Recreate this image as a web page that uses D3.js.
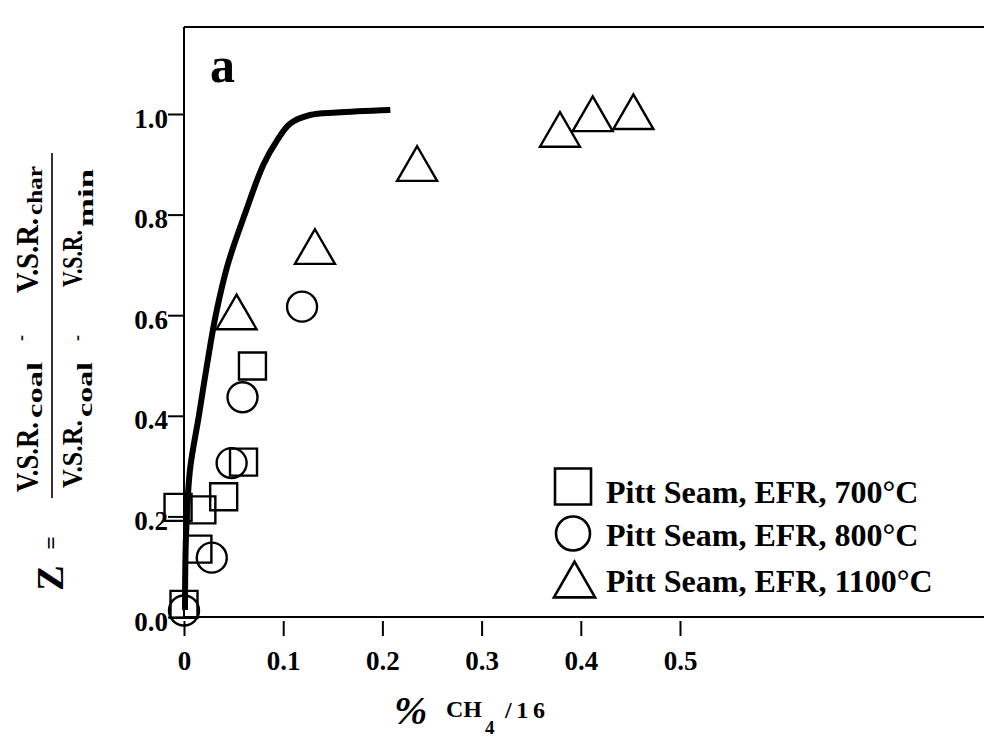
<!DOCTYPE html>
<html><head><meta charset="utf-8">
<script src="https://cdn.jsdelivr.net/npm/d3@7"></script>
<style>body{margin:0;background:#fff}svg{display:block}</style>
</head><body>
<script>
// ---- data ----
const xTickValues = [0, 0.1, 0.2, 0.3, 0.4, 0.5];
const xTickLabels = ["0", "0.1", "0.2", "0.3", "0.4", "0.5"];
const yTickValues = [0, 0.2, 0.4, 0.6, 0.8, 1.0];
const yTickLabels = ["0.0", "0.2", "0.4", "0.6", "0.8", "1.0"];
const seriesNames = ["Pitt Seam, EFR, 700°C", "Pitt Seam, EFR, 800°C", "Pitt Seam, EFR, 1100°C"];

const sq700X = [0.0, -0.006, 0.018, 0.040, 0.014, 0.060, 0.069];
const sq700Y = [0.025, 0.218, 0.213, 0.239, 0.135, 0.308, 0.499];

const ci800X = [0.0, 0.028, 0.048, 0.059, 0.119];
const ci800Y = [0.013, 0.118, 0.306, 0.437, 0.617];

const tr1100X = [0.053, 0.132, 0.235, 0.379, 0.412, 0.453];
const tr1100Y = [0.595, 0.725, 0.890, 0.958, 0.989, 0.993];

const curveX = [0.001, 0.002, 0.006, 0.015, 0.023, 0.032, 0.044, 0.061, 0.080, 0.094, 0.107, 0.127, 0.154, 0.208];
const curveY = [0.014, 0.159, 0.292, 0.400, 0.499, 0.600, 0.700, 0.799, 0.899, 0.948, 0.981, 0.998, 1.003, 1.008];

// ---- drawing ----
const W = 984, H = 740;
const FONT = "'Liberation Serif', 'Times New Roman', serif";
const svg = d3.select("body").append("svg").attr("width", W).attr("height", H)
  .style("background", "#fff");

const x = d3.scaleLinear().domain([0, 0.5]).range([184, 680]);
const y = d3.scaleLinear().domain([0, 1]).range([617, 114]);
const xLeft = x(0), yBottom = y(0), yTop = 27, xRight = W;

// frame
const frame = svg.append("g").attr("stroke", "#000").attr("stroke-width", 2).attr("fill", "none");
frame.append("line").attr("x1", xLeft).attr("x2", xRight).attr("y1", yTop).attr("y2", yTop);
frame.append("line").attr("x1", xLeft).attr("x2", xLeft).attr("y1", yTop).attr("y2", yBottom);
frame.append("line").attr("x1", xLeft - 1).attr("x2", xRight).attr("y1", yBottom).attr("y2", yBottom);

// x axis
const gx = svg.append("g").attr("transform", `translate(0,${yBottom})`)
  .call(d3.axisBottom(x).tickValues(xTickValues).tickFormat((d, i) => xTickLabels[i]).tickSizeInner(19).tickSizeOuter(0));
gx.select(".domain").remove();
gx.selectAll(".tick line").attr("stroke", "#000").attr("stroke-width", 2).attr("y1", 4);
gx.selectAll(".tick text").attr("y", 53).attr("dy", null)
  .style("font-family", FONT).style("font-weight", "bold").style("font-size", "27px").attr("fill", "#000");

// y axis
const gy = svg.append("g").attr("transform", `translate(${xLeft},0)`)
  .call(d3.axisLeft(y).tickValues(yTickValues).tickFormat((d, i) => yTickLabels[i]).tickSizeInner(16).tickSizeOuter(0));
gy.select(".domain").remove();
gy.selectAll(".tick line").attr("stroke", "#000").attr("stroke-width", 2);
gy.selectAll(".tick text").attr("x", -16).attr("dy", null).attr("y", 13)
  .style("font-family", FONT).style("font-weight", "bold").style("font-size", "27px").attr("fill", "#000");

// markers
const mk = svg.append("g").attr("fill", "none").attr("stroke", "#000").attr("stroke-width", 2.4);
const sqSym = d3.symbol().type(d3.symbolSquare).size(27 * 27);
const ciSym = d3.symbol().type(d3.symbolCircle).size(Math.PI * 15 * 15);
const trSym = d3.symbol().type(d3.symbolTriangle).size(693);
mk.selectAll(".sq").data(sq700X.map((v, i) => [v, sq700Y[i]])).join("path")
  .attr("d", sqSym).attr("transform", d => `translate(${x(d[0])},${y(d[1])})`);
mk.selectAll(".ci").data(ci800X.map((v, i) => [v, ci800Y[i]])).join("path")
  .attr("class", "ci").attr("d", ciSym).attr("transform", d => `translate(${x(d[0])},${y(d[1])})`);
mk.selectAll(".tr").data(tr1100X.map((v, i) => [v, tr1100Y[i]])).join("path")
  .attr("class", "tr").attr("d", trSym).attr("transform", d => `translate(${x(d[0])},${y(d[1])})`);

// curve
const line = d3.line().x(d => x(d[0])).y(d => y(d[1])).curve(d3.curveCatmullRom.alpha(0.5));
svg.append("path").datum(curveX.map((v, i) => [v, curveY[i]]))
  .attr("d", line).attr("fill", "none").attr("stroke", "#000").attr("stroke-width", 6)
  .attr("stroke-linecap", "butt").attr("stroke-linejoin", "round");

// panel label
svg.append("text").attr("x", 210).attr("y", 82).text("a")
  .style("font-family", FONT).style("font-weight", "bold").style("font-size", "50px");

// legend
const leg = svg.append("g");
const legSyms = [
  d3.symbol().type(d3.symbolSquare).size(36 * 36),
  d3.symbol().type(d3.symbolCircle).size(Math.PI * 17 * 17),
  d3.symbol().type(d3.symbolTriangle).size(735)
];
const legPos = [[573, 486.5], [573, 533.5], [574.5, 585.5]];
const legBase = [503, 546, 592];
seriesNames.forEach((name, i) => {
  leg.append("path").attr("d", legSyms[i]).attr("transform", `translate(${legPos[i][0]},${legPos[i][1]})`)
    .attr("fill", "none").attr("stroke", "#000").attr("stroke-width", 2.6);
  leg.append("text").attr("x", 606).attr("y", legBase[i]).text(name)
    .style("font-family", FONT).style("font-weight", "bold").style("font-size", "32px");
});

// x-axis title
const xt = svg.append("g").style("font-family", FONT).style("font-weight", "bold");
xt.append("text").attr("x", 394).attr("y", 724).text("%")
  .style("font-size", "40px").style("font-style", "italic");
xt.append("text").attr("x", 446).attr("y", 717).text("CH").style("font-size", "24px")
  .attr("textLength", 36).attr("lengthAdjust", "spacingAndGlyphs");
xt.append("text").attr("x", 485).attr("y", 734).text("4").style("font-size", "19px");
xt.append("text").attr("x", 505).attr("y", 718).text("/16").style("font-size", "24px")
  .attr("textLength", 40).attr("lengthAdjust", "spacing");

// y-axis title (rotated, reads bottom to top); rotated coords: screen x = v, screen y = -u
const yt = svg.append("g").attr("transform", "rotate(-90)")
  .style("font-family", FONT).style("font-weight", "bold").attr("fill", "#000");
function rtext(sx, sy0, sy1, str, size, anchor) {
  const t = yt.append("text").attr("x", -sy0).attr("y", sx).text(str).style("font-size", size + "px");
  if (sy1 !== null) t.attr("textLength", sy0 - sy1).attr("lengthAdjust", "spacingAndGlyphs");
  if (anchor) t.attr("text-anchor", anchor);
  return t;
}
// numerator
rtext(38, 492, 422, "V.S.R.", 31);
rtext(42, 418, 362, "coal", 21);
rtext(27, 338, null, "-", 18, "middle");
rtext(38, 293, 218, "V.S.R.", 31);
rtext(42, 215, 166, "char", 21);
// denominator
rtext(82, 488, 420, "V.S.R.", 29);
rtext(92, 417, 362, "coal", 21);
rtext(83, 338, null, "-", 18, "middle");
rtext(82, 287, 230, "V.S.R.", 29);
rtext(93, 227, 169, "min", 21);
// fraction bar
svg.append("line").attr("x1", 52).attr("x2", 52).attr("y1", 153).attr("y2", 498)
  .attr("stroke", "#000").attr("stroke-width", 1.6);
// "Z ="
rtext(59, 543, null, "=", 24, "middle");
rtext(63, 578, null, "Z", 38, "middle");
</script>
</body></html>
